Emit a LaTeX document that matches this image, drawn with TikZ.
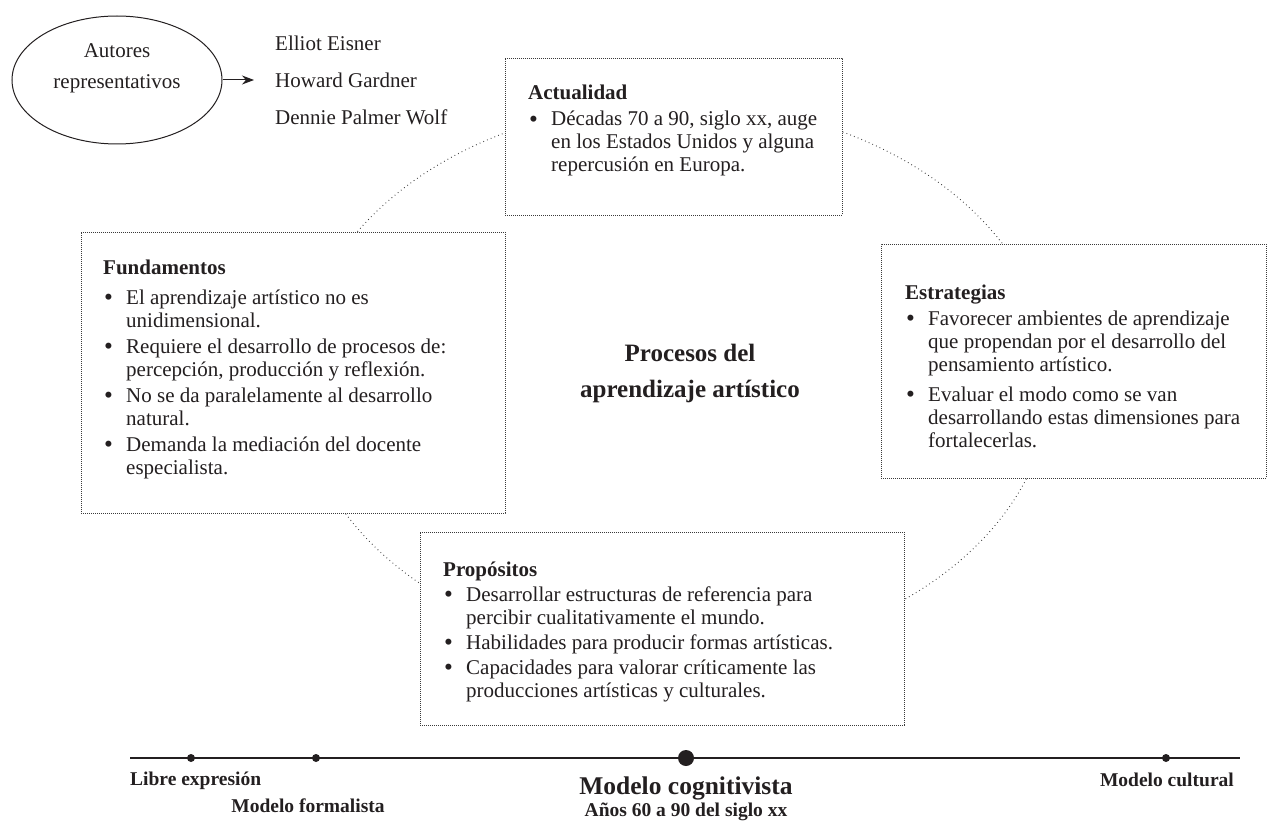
\documentclass[tikz,border=0pt]{standalone}
\usepackage{fontspec}
\setmainfont{Liberation Serif}
\usetikzlibrary{shapes.geometric,arrows.meta,calc}
\definecolor{ink}{HTML}{231F20}
\definecolor{dotc}{HTML}{3A3A3A}

% bullet cell used in the lists
\newcommand{\bi}{\makebox[23pt][l]{\hspace{1pt}\raisebox{-0.12ex}{\scalebox{1.2}{\textbullet}}}}

\tikzset{
  body/.style={inner sep=0pt, anchor=base west, text=ink, font=\fontsize{21}{23}\selectfont},
  dotbox/.style={draw=dotc, fill=white, line width=0.9pt, dash pattern=on 0.7pt off 1.3pt,
                 rectangle, inner sep=0pt},
  ring/.style={draw=dotc, line width=0.9pt, dash pattern=on 0.8pt off 3.2pt},
  tick/.style={circle, fill=ink, inner sep=0pt, minimum size=8pt},
  bigtick/.style={circle, fill=ink, inner sep=0pt, minimum size=16pt},
  era/.style={inner sep=0pt, text=ink, font=\fontsize{19.5}{22}\selectfont\bfseries},
}

\begin{document}
\begin{tikzpicture}[x=1pt, y=-1pt]
\useasboundingbox (0,0) rectangle (1268,821);

% dotted ring linking the four boxes
\draw[ring] (675,380) ellipse [x radius=376pt, y radius=277pt];

% authors
\node[ellipse, draw=ink, line width=1pt, minimum width=210pt, minimum height=128pt] (aut) at (117,80) {};
\node[inner sep=0pt, text=ink, align=center, font=\fontsize{21}{31}\selectfont] (autt) at (117,68)
  {Autores\\representativos};
\coordinate (arrend) at (254,80);
\draw[-{Stealth[length=12pt,width=9pt]}, line width=1pt, ink] (aut.east) -- (arrend);
\node[inner sep=0pt, anchor=west, text=ink, align=left, font=\fontsize{21}{37}\selectfont] (names) at (275,80)
  {Elliot Eisner\\Howard Gardner\\Dennie Palmer Wolf};

% boxes
\node[dotbox, minimum width=337pt, minimum height=157pt] (act) at (673.5,136.5) {};
\node[dotbox, minimum width=424pt, minimum height=281pt] (fun) at (293,372.5) {};
\node[dotbox, minimum width=385pt, minimum height=234pt] (est) at (1073.5,361) {};
\node[dotbox, minimum width=484pt, minimum height=193pt] (pro) at (662,628.5) {};

\node[body] (actt) at (528,100) {\begin{tabular}[t]{@{}l@{}l@{}}
\multicolumn{2}{@{}l@{}}{\textbf{Actualidad}}\\[3pt]
\bi & Décadas 70 a 90, siglo xx, auge\\
    & en los Estados Unidos y alguna\\
    & repercusión en Europa.
\end{tabular}};

\node[body] (funt) at (103,274) {\begin{tabular}[t]{@{}l@{}l@{}}
\multicolumn{2}{@{}l@{}}{\textbf{Fundamentos}}\\[7pt]
\bi & El aprendizaje artístico no es\\
    & unidimensional.\\[3pt]
\bi & Requiere el desarrollo de procesos de:\\
    & percepción, producción y reflexión.\\[3pt]
\bi & No se da paralelamente al desarrollo\\
    & natural.\\[3pt]
\bi & Demanda la mediación del docente\\
    & especialista.
\end{tabular}};

\node[body] (estt) at (905,299) {\begin{tabular}[t]{@{}l@{}l@{}}
\multicolumn{2}{@{}l@{}}{\textbf{Estrategias}}\\[3pt]
\bi & Favorecer ambientes de aprendizaje\\
    & que propendan por el desarrollo del\\
    & pensamiento artístico.\\[7pt]
\bi & Evaluar el modo como se van\\
    & desarrollando estas dimensiones para\\
    & fortalecerlas.
\end{tabular}};

\node[body] (prot) at (443,576) {\begin{tabular}[t]{@{}l@{}l@{}}
\multicolumn{2}{@{}l@{}}{\textbf{Propósitos}}\\[2pt]
\bi & Desarrollar estructuras de referencia para\\
    & percibir cualitativamente el mundo.\\[2pt]
\bi & Habilidades para producir formas artísticas.\\[2pt]
\bi & Capacidades para valorar críticamente las\\
    & producciones artísticas y culturales.
\end{tabular}};

% central title
\node[inner sep=0pt, text=ink, align=center, font=\fontsize{25}{36}\selectfont\bfseries] (core) at (690,373)
  {Procesos del\\aprendizaje artístico};

% time line
\coordinate (tlA) at (130,758);
\coordinate (tlB) at (1240,758);
\draw[ink, line width=1.3pt] (tlA) -- (tlB);
\node[tick] (t1) at (191,758) {};
\node[tick] (t2) at (316,758) {};
\node[bigtick] (t3) at (686,758) {};
\node[tick] (t4) at (1166,758) {};

\node[era, anchor=base west] (e1) at (130,785) {Libre expresión};
\node[era, anchor=base] (e2) at (308,812) {Modelo formalista};
\node[era, anchor=base east] (e4) at (1234,786) {Modelo cultural};
\node[inner sep=0pt, text=ink, font=\fontsize{25.5}{28}\selectfont\bfseries, anchor=base] (e3) at (686,794) {Modelo cognitivista};
\node[era, anchor=base] (e3b) at (686,816) {Años 60 a 90 del siglo xx};
\end{tikzpicture}
\end{document}
